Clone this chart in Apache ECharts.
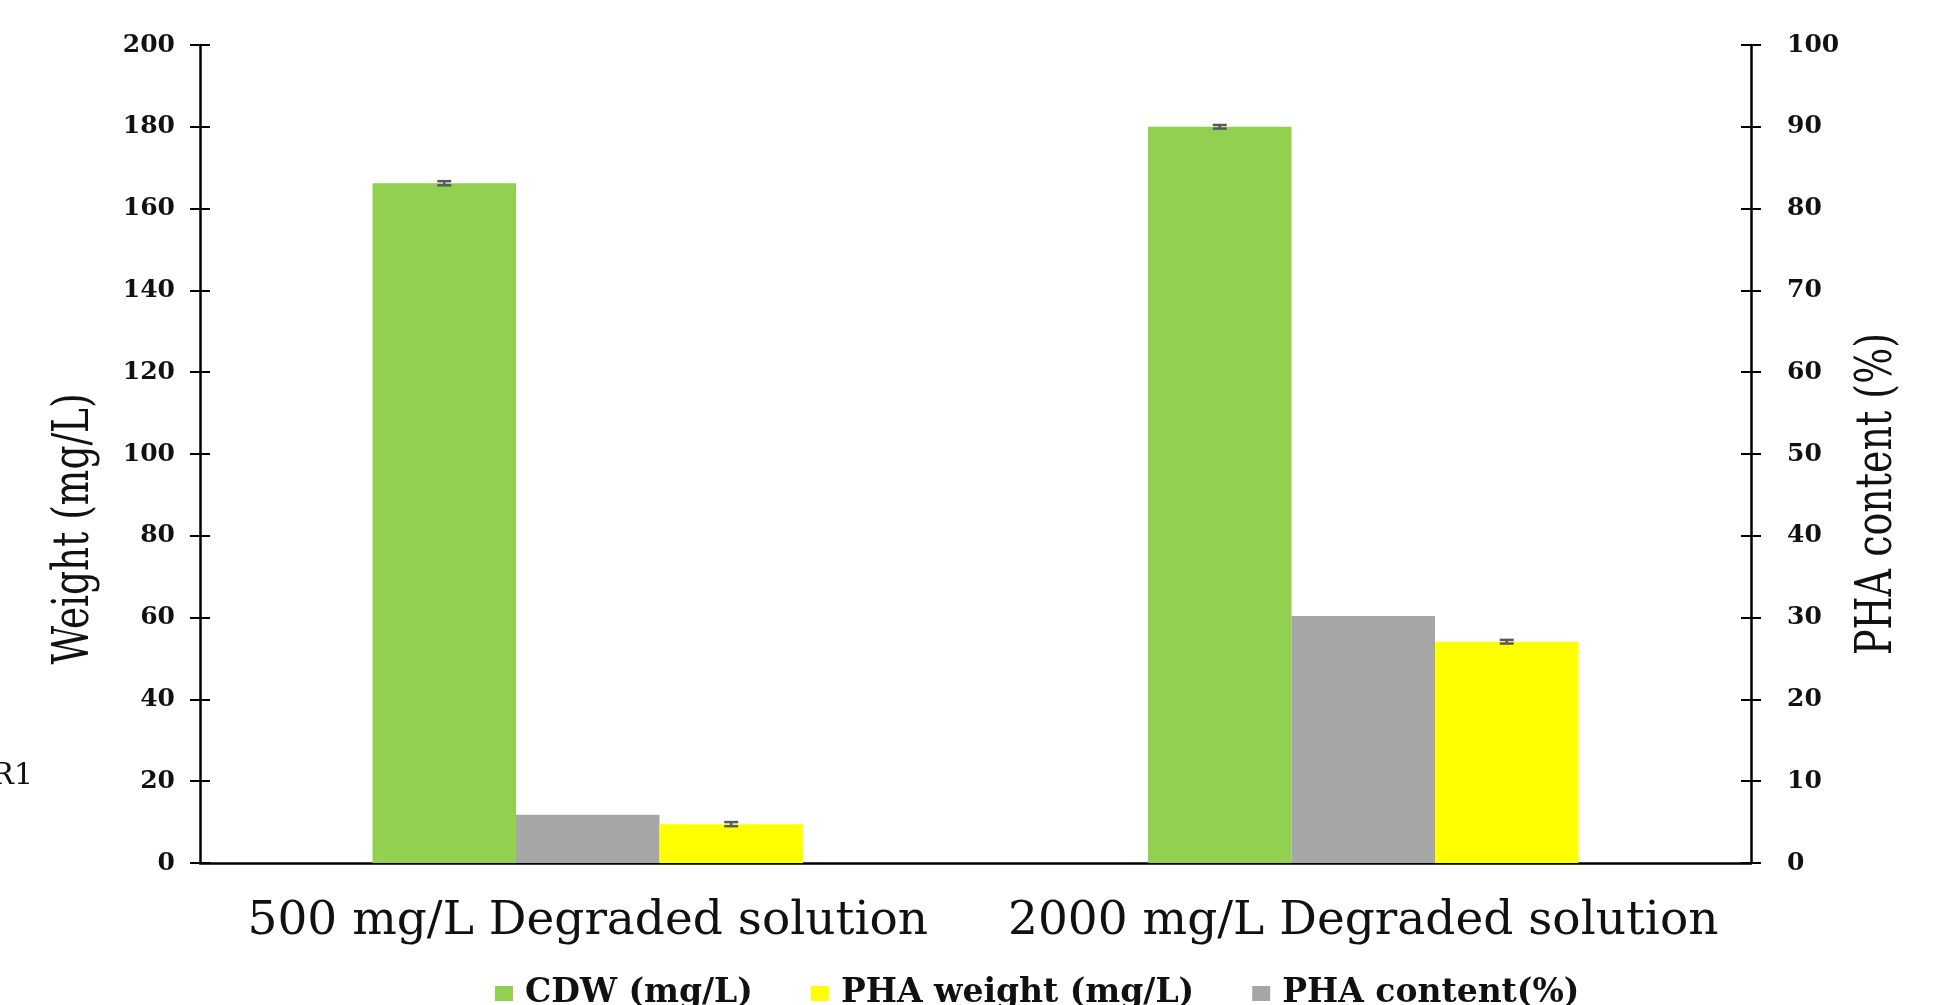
<!DOCTYPE html>
<html>
<head>
<meta charset="utf-8">
<script src="https://cdn.jsdelivr.net/npm/echarts@6/dist/echarts.min.js"></script>
<style>
html,body{margin:0;padding:0;background:#fff;}
#chart{width:1934px;height:1005px;}
</style>
</head>
<body>
<div id="chart"></div>
<script>
// ---- data ----
const categories = ['500 mg/L Degraded solution', '2000 mg/L Degraded solution'];
const cdw = [166.2, 180.0];            // CDW (mg/L), left axis
const cdwErr = [0.5, 0.45];
const phaWeight = [9.5, 54.1];         // PHA weight (mg/L), left axis
const phaWeightErr = [0.5, 0.45];
const phaContent = [5.9, 30.2];        // PHA content (%), right axis
const leftAxisRange = [0, 200, 20];
const rightAxisRange = [0, 100, 10];
const seriesNames = ['CDW (mg/L)', 'PHA weight (mg/L)', 'PHA content(%)'];

// ---- styles ----
const SERIF = '"DejaVu Serif", "Liberation Serif", serif';
const BAR_FRAC = 0.185;
const colors = { cdw: '#92D050', weight: '#FFFF00', content: '#A6A6A6', err: '#595959' };

const chart = echarts.init(document.getElementById('chart'));

const errData = cdw.map((v, i) => [i, v, cdwErr[i], -1])
  .concat(phaWeight.map((v, i) => [i, v, phaWeightErr[i], 1]));

function renderErr(params, api) {
  const cat = api.value(0), v = api.value(1), e = api.value(2), slot = api.value(3);
  const band = api.size([1, 0], [cat, v])[0];
  const c = api.coord([cat, v]);
  const x = c[0] + slot * band * BAR_FRAC;
  const yTop = api.coord([cat, v + e])[1];
  const yBot = api.coord([cat, v - e])[1];
  const hw = 7;
  const st = { stroke: colors.err, lineWidth: 2.5 };
  return {
    type: 'group',
    children: [
      { type: 'line', shape: { x1: x, y1: yTop, x2: x, y2: yBot }, style: st },
      { type: 'line', shape: { x1: x - hw, y1: yTop, x2: x + hw, y2: yTop }, style: st },
      { type: 'line', shape: { x1: x - hw, y1: yBot, x2: x + hw, y2: yBot }, style: st }
    ]
  };
}

const valueAxisBase = {
  type: 'value',
  splitLine: { show: false },
  axisLine: { show: true, lineStyle: { color: '#000', width: 2.5 } },
  axisTick: { show: true, inside: false, length: 10, lineStyle: { color: '#000', width: 2 } },
  axisLabel: { fontFamily: SERIF, fontWeight: 'bold', fontSize: 25, color: '#111' }
};

const option = {
  backgroundColor: '#fff',
  animation: false,
  grid: { left: 200, right: 183, top: 45, bottom: 142, containLabel: false },
  legend: {
    data: seriesNames,
    left: 495,
    top: 977,
    padding: 0,
    itemWidth: 18,
    itemHeight: 15,
    itemGap: 58,
    icon: 'rect',
    textStyle: { fontFamily: SERIF, fontWeight: 'bold', fontSize: 33, color: '#111', padding: [0, 0, 0, 7] }
  },
  xAxis: {
    type: 'category',
    data: categories,
    axisLine: { show: true, lineStyle: { color: '#000', width: 2.5 } },
    axisTick: { show: false },
    axisLabel: { fontFamily: SERIF, fontSize: 47, color: '#111', margin: 35, interval: 0 }
  },
  yAxis: [
    Object.assign({}, valueAxisBase, {
      position: 'left', min: leftAxisRange[0], max: leftAxisRange[1], interval: leftAxisRange[2],
      axisLabel: Object.assign({}, valueAxisBase.axisLabel, { margin: 25 })
    }),
    Object.assign({}, valueAxisBase, {
      position: 'right', min: rightAxisRange[0], max: rightAxisRange[1], interval: rightAxisRange[2],
      axisLabel: Object.assign({}, valueAxisBase.axisLabel, { margin: 36 })
    }),
    {
      type: 'value', position: 'left', min: leftAxisRange[0], max: leftAxisRange[1], interval: leftAxisRange[2],
      splitLine: { show: false }, axisLine: { show: false }, axisLabel: { show: false },
      axisTick: { show: true, inside: true, length: 10, lineStyle: { color: '#000', width: 2 } }
    },
    {
      type: 'value', position: 'right', min: rightAxisRange[0], max: rightAxisRange[1], interval: rightAxisRange[2],
      splitLine: { show: false }, axisLine: { show: false }, axisLabel: { show: false },
      axisTick: { show: true, inside: true, length: 10, lineStyle: { color: '#000', width: 2 } }
    }
  ],
  series: [
    { name: seriesNames[0], type: 'bar', yAxisIndex: 0, data: cdw, barWidth: (BAR_FRAC * 100) + '%', barGap: '0%',
      itemStyle: { color: colors.cdw } },
    { name: seriesNames[2], type: 'bar', yAxisIndex: 1, data: phaContent, barWidth: (BAR_FRAC * 100) + '%', barGap: '0%',
      itemStyle: { color: colors.content } },
    { name: seriesNames[1], type: 'bar', yAxisIndex: 0, data: phaWeight, barWidth: (BAR_FRAC * 100) + '%', barGap: '0%',
      itemStyle: { color: colors.weight } },
    { name: 'error', type: 'custom', xAxisIndex: 0, yAxisIndex: 0, data: errData, renderItem: renderErr,
      encode: { x: 0, y: 1 }, z: 10, silent: true }
  ],
  graphic: [
    {
      type: 'text', x: 75, y: 529, rotation: Math.PI / 2, scaleX: 0.75, scaleY: 1,
      style: { text: 'Weight (mg/L)', font: '50px ' + SERIF, fill: '#111',
        align: 'center', verticalAlign: 'middle', textAlign: 'center', textVerticalAlign: 'middle' }
    },
    {
      type: 'text', x: 1878, y: 494, rotation: Math.PI / 2, scaleX: 0.76, scaleY: 1,
      style: { text: 'PHA content (%)', font: '50px ' + SERIF, fill: '#111',
        align: 'center', verticalAlign: 'middle', textAlign: 'center', textVerticalAlign: 'middle' }
    },
    {
      type: 'text', x: 33, y: 776,
      style: { text: 'R1', font: '30px ' + SERIF, fill: '#111',
        align: 'right', verticalAlign: 'middle', textAlign: 'right', textVerticalAlign: 'middle' }
    }
  ]
};

chart.setOption(option);
</script>
</body>
</html>
